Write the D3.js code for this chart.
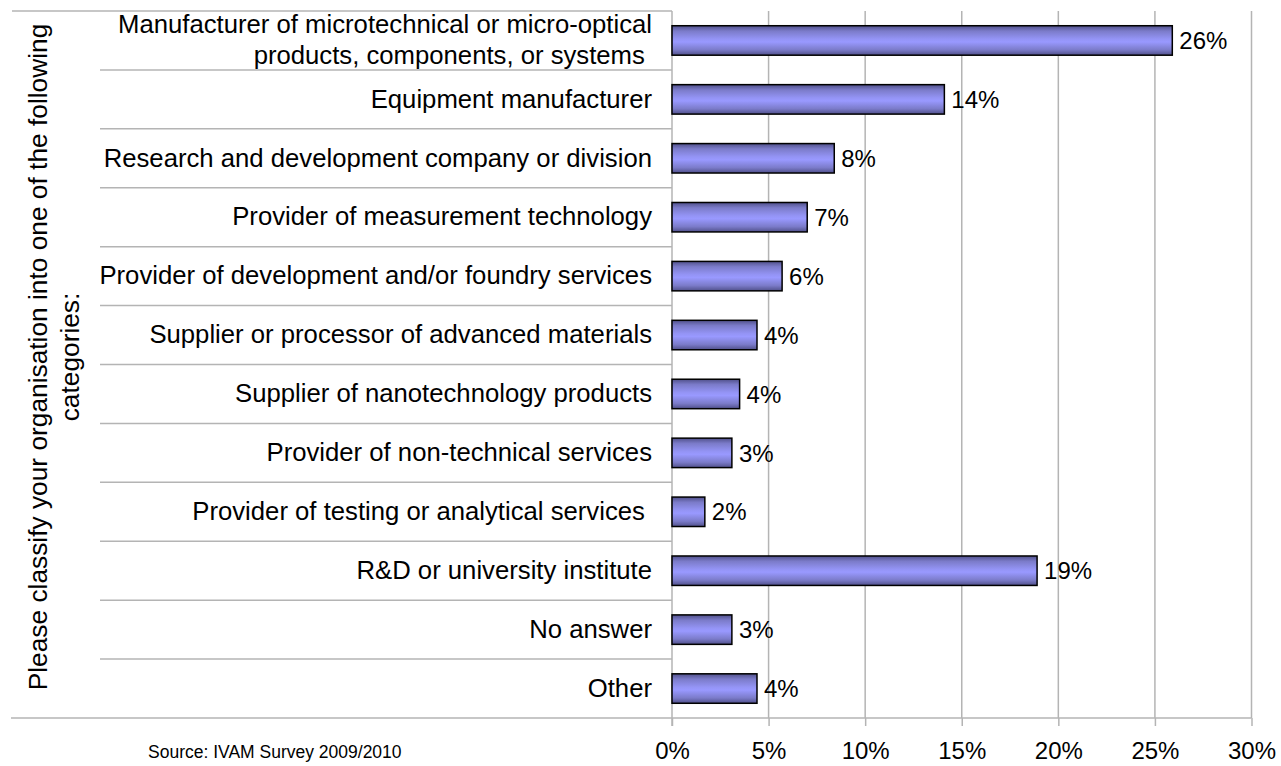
<!DOCTYPE html>
<html>
<head>
<meta charset="utf-8">
<script src="https://cdn.jsdelivr.net/npm/d3@7"></script>
<style>
  html, body { margin: 0; padding: 0; background: #fff; }
  svg { display: block; font-family: "Liberation Sans", Arial, sans-serif; }
  text { white-space: pre; }
</style>
</head>
<body>
<svg id="chart" width="1281" height="766"></svg>
<script>
// Organisation categories (top to bottom) and their share of respondents
const categories = [
  "Manufacturer of microtechnical or micro-optical|products, components, or systems\u00a0",
  "Equipment manufacturer",
  "Research and development company or division",
  "Provider of measurement technology",
  "Provider of development and/or foundry services",
  "Supplier or processor of advanced materials",
  "Supplier of nanotechnology products",
  "Provider of non-technical services",
  "Provider of testing or analytical services\u00a0",
  "R&D or university institute",
  "No answer",
  "Other"
];
const shares = [0.259, 0.141, 0.084, 0.070, 0.057, 0.044, 0.035, 0.031, 0.017, 0.189, 0.031, 0.044];
const tickValues = [0, 0.05, 0.10, 0.15, 0.20, 0.25, 0.30];
const axisTitle = ["Please classify your organisation into one of the following", "categories:"];
const sourceNote = "Source: IVAM Survey 2009/2010";

const svg = d3.select("#chart");
const pct = d3.format(".0%");

const plot = { left: 672, right: 1251.5, top: 11, bottom: 718 };
const labelLeft = 100;
const catFont = 25.7;
const valueFont = 24;

const x = d3.scaleLinear().domain([0, 0.30]).range([plot.left, plot.right]);
const y = d3.scaleBand().domain(categories).range([plot.top, plot.bottom])
  .paddingInner(0.5).paddingOuter(0.25);
const rows = d3.scaleBand().domain(categories).range([plot.top, plot.bottom]).padding(0);

// bar fill: light blue-violet centre shading darker toward the edges
const grad = svg.append("defs").append("linearGradient")
  .attr("id", "barFill").attr("x1", 0).attr("y1", 0).attr("x2", 0).attr("y2", 1);
[[0, "#50508a"], [0.18, "#7b7bc9"], [0.45, "#9494f5"], [0.55, "#9999ff"], [0.82, "#7b7bc9"], [1, "#50508a"]]
  .forEach(([o, c]) => grad.append("stop").attr("offset", o).attr("stop-color", c));

const gridColor = "#b4b4b4";

// vertical gridlines
svg.append("g").selectAll("line").data(tickValues.slice(1)).join("line")
  .attr("x1", d => x(d)).attr("x2", d => x(d))
  .attr("y1", plot.top).attr("y2", plot.bottom)
  .attr("stroke", gridColor).attr("stroke-width", 1.5);

// row separators in the category column
svg.append("g").selectAll("line").data(categories.slice(1)).join("line")
  .attr("x1", labelLeft).attr("x2", plot.left)
  .attr("y1", d => rows(d)).attr("y2", d => rows(d))
  .attr("stroke", gridColor).attr("stroke-width", 1.5);

// top border of the category column
svg.append("line")
  .attr("x1", 12).attr("x2", plot.left)
  .attr("y1", plot.top).attr("y2", plot.top)
  .attr("stroke", gridColor).attr("stroke-width", 1.5);

// bottom axis with tick labels
const xAxis = d3.axisBottom(x).tickValues(tickValues).tickFormat(pct)
  .tickSize(8).tickPadding(16);
const gx = svg.append("g").attr("transform", `translate(0,${plot.bottom})`).call(xAxis);
gx.select(".domain").remove();
gx.selectAll(".tick line").attr("stroke", gridColor).attr("stroke-width", 1.5);
gx.selectAll(".tick text").attr("font-size", valueFont).attr("fill", "#000")
  .attr("font-family", "Liberation Sans, Arial, sans-serif");
svg.append("line")
  .attr("x1", 11).attr("x2", plot.right)
  .attr("y1", plot.bottom).attr("y2", plot.bottom)
  .attr("stroke", gridColor).attr("stroke-width", 1.5);

// vertical axis line
svg.append("line")
  .attr("x1", plot.left).attr("x2", plot.left)
  .attr("y1", plot.top).attr("y2", plot.bottom + 8)
  .attr("stroke", gridColor).attr("stroke-width", 1.5);

// bars
svg.append("g").selectAll("rect").data(categories).join("rect")
  .attr("x", x(0))
  .attr("y", d => y(d))
  .attr("width", (d, i) => x(shares[i]) - x(0))
  .attr("height", y.bandwidth())
  .attr("fill", "url(#barFill)")
  .attr("stroke", "#000").attr("stroke-width", 1.5);

// value labels
svg.append("g").selectAll("text").data(categories).join("text")
  .attr("x", (d, i) => x(shares[i]) + 7)
  .attr("y", d => y(d) + y.bandwidth() / 2)
  .attr("dy", "0.36em")
  .attr("font-size", valueFont)
  .text((d, i) => pct(shares[i]));

// category labels, right-aligned, "|" marks a line break
const catLabels = svg.append("g").selectAll("text").data(categories).join("text")
  .attr("text-anchor", "end")
  .attr("font-size", catFont)
  .attr("x", plot.left - 20)
  .attr("y", d => rows(d) + rows.bandwidth() / 2 - 1);
catLabels.each(function (d) {
  const lines = d.split("|");
  const t = d3.select(this);
  lines.forEach((ln, k) => {
    t.append("tspan")
      .attr("x", plot.left - 20)
      .attr("dy", k === 0 ? `${0.36 - (lines.length - 1) * 0.6}em` : "1.2em")
      .text(ln);
  });
});

// rotated axis title
const title = svg.append("text")
  .attr("transform", `translate(47,357) rotate(-90)`)
  .attr("text-anchor", "middle")
  .attr("font-size", 26.3);
axisTitle.forEach((ln, k) => {
  title.append("tspan").attr("x", 0).attr("dy", k === 0 ? 0 : "1.22em").text(ln);
});

// source note
svg.append("text")
  .attr("x", 148).attr("y", 758)
  .attr("font-size", 17.5)
  .text(sourceNote);
</script>
</body>
</html>
